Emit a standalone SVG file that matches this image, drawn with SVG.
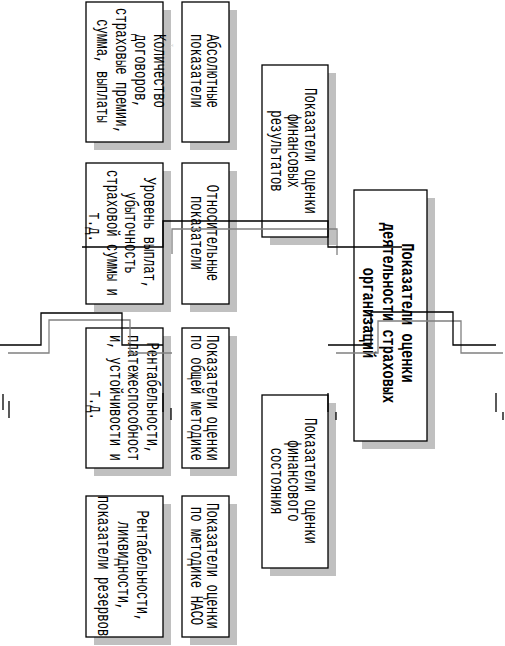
<svg xmlns="http://www.w3.org/2000/svg" width="505" height="646" viewBox="0 0 505 646">
<style>
.sh{fill:#c0c0c0}
.box{fill:#fff;stroke:#000;stroke-width:1.3}
.t{font-family:"Liberation Mono",monospace;font-size:19px;text-anchor:middle;fill:#000}
.b{font-weight:bold}
.c{fill:none;stroke:#000;stroke-width:1.3}
.cs{fill:none;stroke:#808080;stroke-width:1.3}
</style>
<rect width="505" height="646" fill="#fff"/>
<g id="count">
<rect class="sh" x="94" y="10" width="77" height="140"/>
<rect class="box" x="86" y="2" width="77" height="140"/>
<text class="t" transform="translate(154,71) rotate(90) scale(0.65,1)"><tspan x="0" y="0">Количество</tspan><tspan x="0" y="19">договоров,</tspan><tspan x="0" y="38">страховые премии,</tspan><tspan x="0" y="57">сумма, выплаты</tspan></text>
</g>
<g id="abs">
<rect class="sh" x="190" y="10" width="47" height="140"/>
<rect class="box" x="182" y="2" width="47" height="140"/>
<text class="t" transform="translate(207,71) rotate(90) scale(0.65,1)"><tspan x="0" y="0">Абсолютные</tspan><tspan x="0" y="16">показатели</tspan></text>
</g>
<text transform="translate(170,44) rotate(90)" style="font-family:'Liberation Serif',serif;font-size:7px;fill:#d0d0d0">т.</text>
<g id="level">
<rect class="sh" x="94" y="171" width="77" height="141"/>
<rect class="box" x="86" y="163" width="77" height="141"/>
<text class="t" transform="translate(144,233) rotate(90) scale(0.65,1)"><tspan x="0" y="0">Уровень выплат,</tspan><tspan x="0" y="19">убыточность</tspan><tspan x="0" y="37">страховой суммы и</tspan><tspan x="-9" y="55">т.д.</tspan></text>
</g>
<g id="rel">
<rect class="sh" x="190" y="171" width="47" height="141"/>
<rect class="box" x="182" y="163" width="47" height="141"/>
<text class="t" transform="translate(207,233) rotate(90) scale(0.65,1)"><tspan x="0" y="0">Относительные</tspan><tspan x="0" y="16">показатели</tspan></text>
</g>
<g id="profit">
<rect class="sh" x="94" y="336" width="77" height="140"/>
<rect class="box" x="86" y="328" width="77" height="140"/>
<text class="t" transform="translate(147,398) rotate(90) scale(0.65,1)"><tspan x="0" y="0">Рентабельности,</tspan><tspan x="0" y="19">платежеспособност</tspan><tspan x="0" y="37">и, устойчивости и</tspan><tspan x="11" y="57">т.д.</tspan></text>
</g>
<g id="general">
<rect class="sh" x="190" y="336" width="47" height="140"/>
<rect class="box" x="182" y="328" width="47" height="140"/>
<text class="t" transform="translate(207,398) rotate(90) scale(0.65,1)"><tspan x="0" y="0">Показатели оценки</tspan><tspan x="0" y="16">по общей методике</tspan></text>
</g>
<g id="profit2">
<rect class="sh" x="94" y="504" width="77" height="141"/>
<rect class="box" x="86" y="496" width="77" height="141"/>
<text class="t" transform="translate(137,566) rotate(90) scale(0.65,1)"><tspan x="0" y="0">Рентабельности,</tspan><tspan x="0" y="19">ликвидности,</tspan><tspan x="0" y="39">показатели резервов</tspan></text>
</g>
<g id="naso">
<rect class="sh" x="190" y="504" width="47" height="141"/>
<rect class="box" x="182" y="496" width="47" height="141"/>
<text class="t" transform="translate(207,566) rotate(90) scale(0.65,1)"><tspan x="0" y="0">Показатели оценки</tspan><tspan x="0" y="16">по методике НАСО</tspan></text>
</g>
<g id="fin_results">
<rect class="sh" x="270" y="73" width="66" height="172"/>
<rect class="box" x="262" y="65" width="66" height="172"/>
<text class="t" transform="translate(305,151) rotate(90) scale(0.65,1)"><tspan x="0" y="0">Показатели оценки</tspan><tspan x="0" y="17">финансовых</tspan><tspan x="0" y="34">результатов</tspan></text>
</g>
<g id="fin_state">
<rect class="sh" x="270" y="403" width="66" height="173"/>
<rect class="box" x="262" y="395" width="66" height="173"/>
<text class="t" transform="translate(305,481) rotate(90) scale(0.65,1)"><tspan x="0" y="0">Показатели оценки</tspan><tspan x="0" y="17">финансового</tspan><tspan x="0" y="34">состояния</tspan></text>
</g>
<g id="central">
<rect class="sh" x="362" y="198" width="73" height="251"/>
<rect class="box" x="354" y="190" width="73" height="251"/>
<text class="t b" transform="translate(402,313) rotate(90) scale(0.72,1)"><tspan x="0" y="0">Показатели оценки</tspan><tspan x="0" y="19">деятельности страховых</tspan><tspan x="0" y="39">организаций</tspan></text>
</g>
<g id="connectors">
<polyline class="cs" points="172,254 172,229 337,229 337,255"/>
<polyline class="cs" points="8,353 49,353 49,320 130,320 130,353 172,353"/>
<polyline class="cs" points="336,353 378,353 378,321 461,321 461,353 503,353"/>
<polyline class="c" points="82,247 163,247 163,221 328,221 328,247 402,247"/>
<polyline class="c" points="0,345 41,345 41,313 122,313 122,345 163,345"/>
<polyline class="c" points="328,345 371,345 371,312 453,312 453,345 496,345"/>
<line class="c" x1="3" y1="394" x2="3" y2="410"/>
<line class="c" x1="9" y1="401" x2="9" y2="418"/>
<line class="c" x1="163" y1="393" x2="163" y2="412" stroke-width="2"/>
<line class="c" x1="171" y1="408" x2="171" y2="420"/>
<line class="c" x1="328" y1="393" x2="328" y2="412" stroke-width="2"/>
<line class="c" x1="336" y1="412" x2="336" y2="420"/>
<line class="c" x1="496" y1="393" x2="496" y2="412"/>
<line class="c" x1="503" y1="412" x2="503" y2="420"/>
</g>
</svg>
